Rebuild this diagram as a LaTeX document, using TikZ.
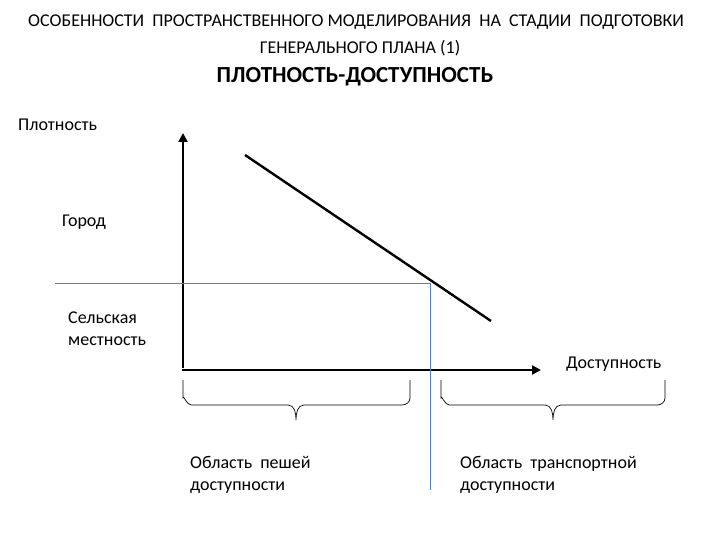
\documentclass[tikz,border=0pt]{standalone}
\usepackage{fontspec}
\setmainfont{Carlito}
\usetikzlibrary{arrows.meta}
\begin{document}
\begin{tikzpicture}[x=1pt,y=-1pt,
  lbl/.style={inner sep=0pt,font=\fontsize{18}{22}\selectfont},
  axis/.style={line width=2.4pt,-{Triangle[length=9pt,width=9pt]}},
  blueline/.style={draw={rgb,255:red,79;green,129;blue,189},line width=0.8pt},
  brc/.style={line width=0.7pt}]
\useasboundingbox[fill=white] (0,0) rectangle (720,540);
\node[lbl] (t1) at (356,22) {ОСОБЕННОСТИ \ ПРОСТРАНСТВЕННОГО МОДЕЛИРОВАНИЯ \ НА \ СТАДИИ \ ПОДГОТОВКИ};
\node[lbl] (t2) at (360,48) {ГЕНЕРАЛЬНОГО ПЛАНА (1)};
\node[lbl,font=\fontsize{23}{27}\bfseries\selectfont] (t3) at (355,77) {ПЛОТНОСТЬ-ДОСТУПНОСТЬ};
\node[lbl,anchor=west] (pl) at (18,125) {Плотность};
\node[lbl,anchor=west] (gor) at (62,222) {Город};
\node[lbl,anchor=north west,align=left] (sel) at (68,312) {Сельская\\местность};
\node[lbl,anchor=west] (dost) at (566,364) {Доступность};
\coordinate (o) at (183,370);
\coordinate (yt) at (183,133);
\coordinate (xt) at (541,370);
\draw[axis] (183,368) -- (yt);
\draw[axis] (181.8,370) -- (xt);
\coordinate (d1) at (245,155);
\coordinate (d2) at (491,321);
\draw[line width=2.4pt] (d1) -- (d2);
\coordinate (b1) at (55,283);
\coordinate (b2) at (430,283);
\coordinate (b3) at (430,490);
\draw[blueline] (b1) -- (b2) -- (b3);
\coordinate (L1) at (183,380); \coordinate (L2) at (410,380);
\coordinate (R1) at (441,380); \coordinate (R2) at (665,380);
\draw[brc] (L1) -- ++(0,18) to[out=90,in=180] ++(8,7) -- (288,405) to[out=0,in=90] (296,420)
  to[out=90,in=180] (304,405) -- (402,405) to[out=0,in=-90] (410,398) -- (L2);
\draw[brc] (R1) -- ++(0,18) to[out=90,in=180] ++(8,7) -- (545,405) to[out=0,in=90] (553,420)
  to[out=90,in=180] (561,405) -- (657,405) to[out=0,in=-90] (665,398) -- (R2);
\node[lbl,anchor=north west,align=left] (pesh) at (190,456) {Область \ пешей\\доступности};
\node[lbl,anchor=north west,align=left] (tr) at (460,456) {Область \ транспортной\\доступности};
\end{tikzpicture}
\end{document}
